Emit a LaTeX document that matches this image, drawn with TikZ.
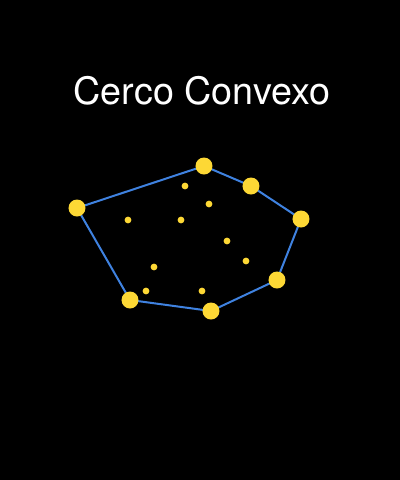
\documentclass[tikz,border=0pt]{standalone}
\usepackage{fontspec}
\setmainfont{TeX Gyre Heros}
\definecolor{hullblue}{HTML}{3F82E0}
\definecolor{dotyellow}{HTML}{FDD835}
\tikzset{every picture/.style={line width=0.75pt}}
\tikzset{
  hull/.style={draw=hullblue, line width=1.5pt, line join=round},
  bigdot/.style={fill=dotyellow},
  smalldot/.style={fill=dotyellow},
  title/.style={text=white, font=\fontsize{28.3}{30}\selectfont, anchor=base}
}

\begin{document}
\begin{tikzpicture}[x=0.75pt,y=0.75pt,yscale=-1,xscale=1]
%background, fixes the size of the picture
\fill[black] (0,0) rectangle (400,480);
\useasboundingbox (0,0) rectangle (400,480);

% Text Node
\node[title] (title) at (202,104) {Cerco Convexo};

%hull points
\coordinate (h1) at (77,208);
\coordinate (h2) at (204,166);
\coordinate (h3) at (251,186);
\coordinate (h4) at (301,219);
\coordinate (h5) at (277,280);
\coordinate (h6) at (211,311);
\coordinate (h7) at (130,300);

%Shape: Polygon (the hull)
\draw[hull] (h1) -- (h2) -- (h3) -- (h4) -- (h5) -- (h6) -- (h7) -- cycle;

%points on the hull
\foreach \p in {h1,h2,h3,h4,h5,h6,h7}
  \fill[bigdot] (\p) circle (8.5);

%points inside
\foreach \x/\y in {185/186, 209/204, 128/220, 181/220, 227/241, 246/261, 154/267, 146/291, 202/291}
  \fill[smalldot] (\x,\y) circle (3.4);
\end{tikzpicture}
\end{document}
